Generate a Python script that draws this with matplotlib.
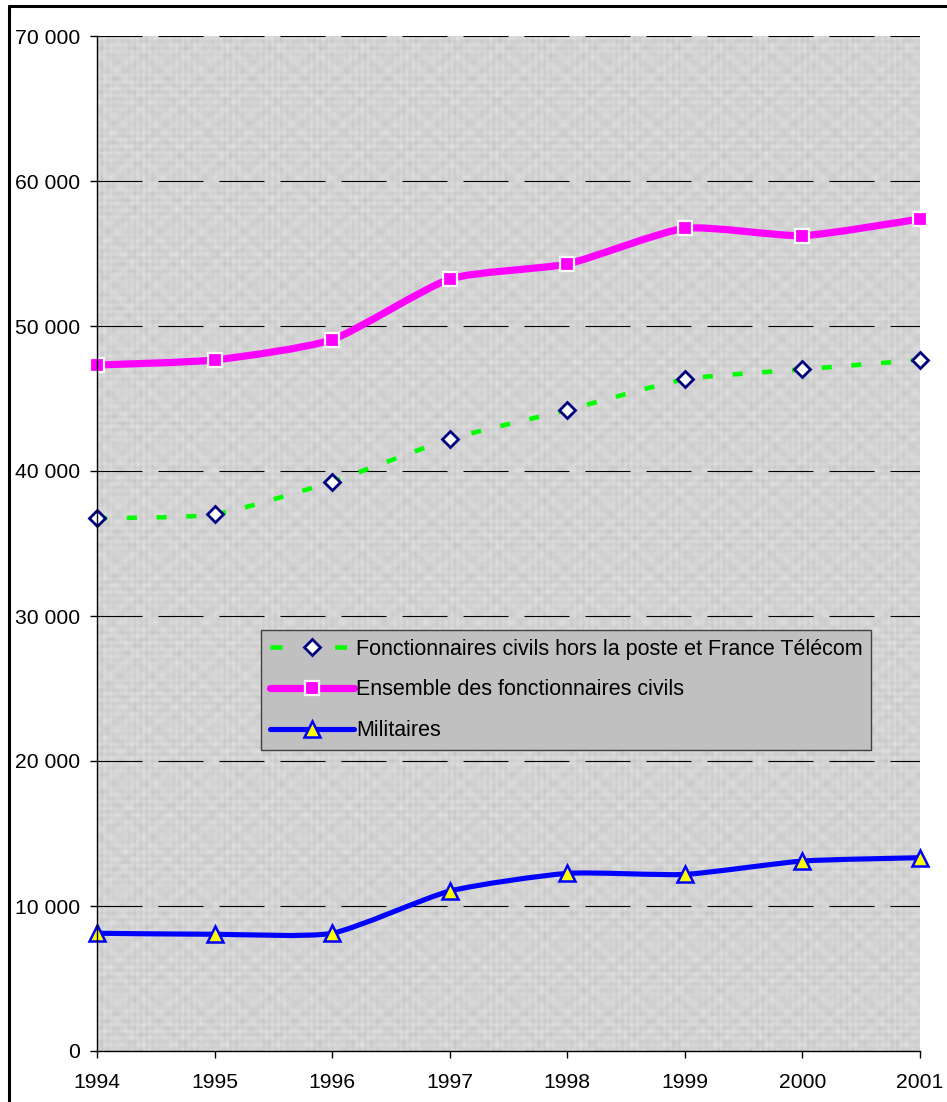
import numpy as np
import matplotlib
matplotlib.use("Agg")
import matplotlib.pyplot as plt
from matplotlib.path import Path
from matplotlib.patches import PathPatch
from matplotlib.lines import Line2D
from matplotlib.ticker import FuncFormatter

plt.rcParams['font.family'] = ['Liberation Sans', 'DejaVu Sans']

years = [1994, 1995, 1996, 1997, 1998, 1999, 2000, 2001]
hors_poste = [36740, 37010, 39260, 42200, 44210, 46320, 47010, 47660]
ensemble_civils = [47310, 47660, 49060, 53240, 54280, 56740, 56230, 57380]
militaires = [8120, 8050, 8120, 11030, 12250, 12180, 13100, 13330]

labels = ["Fonctionnaires civils hors la poste et France Télécom",
          "Ensemble des fonctionnaires civils",
          "Militaires"]

W, H = 947, 1102
fig = plt.figure(figsize=(W / 100, H / 100), dpi=100)
ax = fig.add_axes([97 / W, 1 - 1051 / H, (920 - 97) / W, (1051 - 36) / H])


def smooth_path(xs, ys, k=10.0):
    """Lightly smoothed Bezier path through the points."""
    p = np.column_stack([xs, ys]).astype(float)
    n = len(p)
    verts = [p[0]]
    codes = [Path.MOVETO]
    for i in range(n - 1):
        p0 = p[i - 1] if i > 0 else p[i]
        p1 = p[i]
        p2 = p[i + 1]
        p3 = p[i + 2] if i + 2 < n else p[i + 1]
        c1 = p1 + (p2 - p0) / k
        c2 = p2 - (p3 - p1) / k
        verts += [c1, c2, p2]
        codes += [Path.CURVE4] * 3
    return Path(verts, codes)


# textured plot-area fill (woven look: row and column streaks)
rows, cols = 1015, 823
r = np.arange(rows)[:, None]
c = np.arange(cols)[None, :]
tex = (211
       + 5 * np.sin(c * 1.05) * np.cos(c * 0.071)
       + 5 * np.sin(r * 0.93) * np.cos(r * 0.057)
       + 4 * np.sin(c * 0.37 + r * 0.02) * np.sin(r * 0.41)
       + 4 * np.cos(r * 0.29) * np.sin(c * 0.23 + r * 0.013)
       + 3 * np.cos(c * 1.61) * np.sin(r * 1.33))
tex = np.clip(tex, 178, 240)
ax.imshow(tex, cmap='gray', vmin=0, vmax=255, extent=[1994, 2001, 0, 70000],
          aspect='auto', interpolation='bilinear', zorder=0)

ax.set_xlim(1994, 2001)
ax.set_ylim(0, 70000)

# dashed horizontal gridlines
ax.set_yticks(np.arange(0, 70001, 10000))
ax.grid(axis='y', color='black', linewidth=0.8, linestyle=(0, (40.5, 14.4)))
for gl in ax.get_ygridlines():
    gl.set_zorder(1)

# series lines
styles = [
    (hors_poste, dict(color='#00ff00', linewidth=3.3, linestyle=(0, (2.2, 4.3)))),
    (ensemble_civils, dict(color='#ff00ff', linewidth=5.2, linestyle='-')),
    (militaires, dict(color='#0000ff', linewidth=3.7, linestyle='-')),
]
for ys, st in styles:
    patch = PathPatch(smooth_path(years, ys), fill=False, edgecolor=st['color'],
                      linewidth=st['linewidth'], linestyle=st['linestyle'],
                      capstyle='butt', joinstyle='round', zorder=3, clip_on=False)
    ax.add_patch(patch)

# markers
diamond = dict(marker='D', markersize=8, markerfacecolor='white',
               markeredgecolor='#000080', markeredgewidth=2.0)
square = dict(marker='s', markersize=10.5, markerfacecolor='#ff00ff',
              markeredgecolor='white', markeredgewidth=1.6)
triangle = dict(marker='^', markersize=11, markerfacecolor='#ffff00',
                markeredgecolor='#0000ff', markeredgewidth=1.8)

ax.plot(years, hors_poste, linestyle='none', zorder=4, clip_on=False, **diamond)
ax.plot(years, ensemble_civils, linestyle='none', zorder=4, clip_on=False, **square)
ax.plot(years, militaires, linestyle='none', zorder=4, clip_on=False, **triangle)

# axes styling
for side in ['top', 'right']:
    ax.spines[side].set_visible(False)
for side in ['left', 'bottom']:
    ax.spines[side].set_color('black')
    ax.spines[side].set_linewidth(1.0)
    ax.spines[side].set_zorder(5)

ax.set_xticks(years)
ax.set_xticklabels([str(y) for y in years])
ax.yaxis.set_major_formatter(FuncFormatter(lambda v, p: f"{int(v):,}".replace(",", " ")))
ax.tick_params(axis='both', direction='out', length=5, width=1, color='black',
               labelsize=15.2, labelcolor='black')
ax.tick_params(axis='y', pad=7)
ax.tick_params(axis='x', pad=11)

# legend
handles = [
    Line2D([], [], linestyle=(0, (2.6, 11.5)), color='#00ff00', linewidth=3.3, **diamond),
    Line2D([], [], color='#ff00ff', linewidth=5.2, solid_capstyle='round', **square),
    Line2D([], [], color='#0000ff', linewidth=3.7, solid_capstyle='round', **triangle),
]
leg = fig.legend(handles, labels, loc='upper left',
                 bbox_to_anchor=(261 / W, 1 - 630 / H), borderaxespad=0,
                 fontsize=15.5, frameon=True, fancybox=False, shadow=False,
                 facecolor='#c0c0c0', edgecolor='#404040', framealpha=1,
                 handlelength=3.9, handletextpad=0.12, labelspacing=0.92,
                 borderpad=0.4, numpoints=1)
leg.get_frame().set_linewidth(1.0)
leg.set_zorder(10)

# outer chart border (left and top edges)
fig.add_artist(Line2D([8.5 / W, 8.5 / W], [0, 1 - 5 / H], transform=fig.transFigure,
                      color='black', linewidth=2.2, solid_capstyle='butt'))
fig.add_artist(Line2D([7.5 / W, 1], [1 - 6 / H, 1 - 6 / H], transform=fig.transFigure,
                      color='black', linewidth=2.2, solid_capstyle='butt'))

fig.savefig('out.png', dpi=100, facecolor='white')
